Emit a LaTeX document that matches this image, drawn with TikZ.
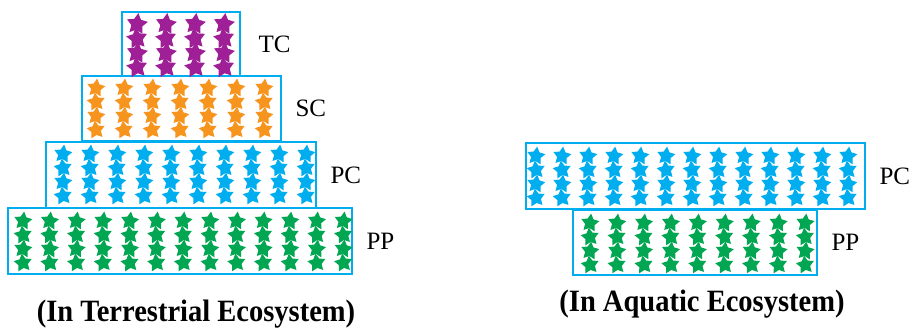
\documentclass[tikz,border=0pt]{standalone}
\usepackage{fontspec}
\setmainfont{Liberation Serif}
\newfontfamily\capfont[FakeStretch=0.92]{Liberation Serif}
\usetikzlibrary{positioning,shapes.geometric}
\definecolor{layerblue}{RGB}{0,174,239}
\definecolor{tcpurple}{RGB}{158,31,150}
\definecolor{scorange}{RGB}{247,148,29}
\definecolor{ppgreen}{RGB}{0,166,81}

\begin{document}
\begin{tikzpicture}[x=1pt,y=-1pt,
  layer/.style={draw=layerblue,line width=2.6pt,inner sep=0pt},
  org/.style={star,star points=5,star point ratio=1.9,fill=#1,draw=none,inner sep=0pt,minimum size=19pt},
  lab/.style={font=\fontsize{25}{25}\selectfont,inner sep=0pt},
  captext/.style={font=\capfont\bfseries\fontsize{31}{31}\selectfont,inner sep=0pt}
]
\useasboundingbox (0,0) rectangle (916,328);

% TERRESTRIAL PYRAMID
\node[layer,minimum width=118pt,minimum height=64pt] (tc) at (181,44) {};
\node[layer,minimum width=199pt,minimum height=65pt] (sc) at (181.5,108.5) {};
\node[layer,minimum width=270pt,minimum height=66pt] (pc) at (181,175) {};
\node[layer,minimum width=344pt,minimum height=66pt] (pp) at (180,241) {};

\foreach \i in {0,...,3} \foreach \j in {0,...,3}
  \node[org=tcpurple,minimum size=22pt,rotate={mod(\j,2)*14-7}] at (137+29*\i,24+14.5*\j) {};
\foreach \i in {0,...,6} \foreach \j in {0,...,3}
  \node[org=scorange,rotate={mod(\j,2)*14-7}] at (96+28*\i,88+14*\j) {};
\foreach \i in {0,...,9} \foreach \j in {0,...,3}
  \node[org=layerblue,rotate={mod(\j,2)*14-7}] at (63+27*\i,154+14*\j) {};
\foreach \i in {0,...,12} \foreach \j in {0,...,3}
  \node[org=ppgreen,rotate={mod(\j,2)*14-7}] at (23+26.7*\i,221+14*\j) {};

\node[lab,right=17pt of tc] (tclab) {TC};
\node[lab,right=13pt of sc] (sclab) {SC};
\node[lab,right=13pt of pc] (pclab) {PC};
\node[lab,right=13pt of pp] (pplab) {PP};
\node[captext] (tcap) at (196,314) {(In Terrestrial Ecosystem)};

% AQUATIC PYRAMID
\node[layer,minimum width=339pt,minimum height=66pt] (apc) at (695.5,176) {};
\node[layer,minimum width=244pt,minimum height=65pt] (app) at (695,242.5) {};

\foreach \i in {0,...,12} \foreach \j in {0,...,3}
  \node[org=layerblue,rotate={mod(\j,2)*14-7}] at (536+26*\i,156+14*\j) {};
\foreach \i in {0,...,8} \foreach \j in {0,...,3}
  \node[org=ppgreen,rotate={mod(\j,2)*14-7}] at (590+26.9*\i,223+14*\j) {};

\node[lab,right=13pt of apc] (apclab) {PC};
\node[lab,right=13pt of app] (applab) {PP};
\node[captext] (acap) at (702,304) {(In Aquatic Ecosystem)};

\end{tikzpicture}
\end{document}
